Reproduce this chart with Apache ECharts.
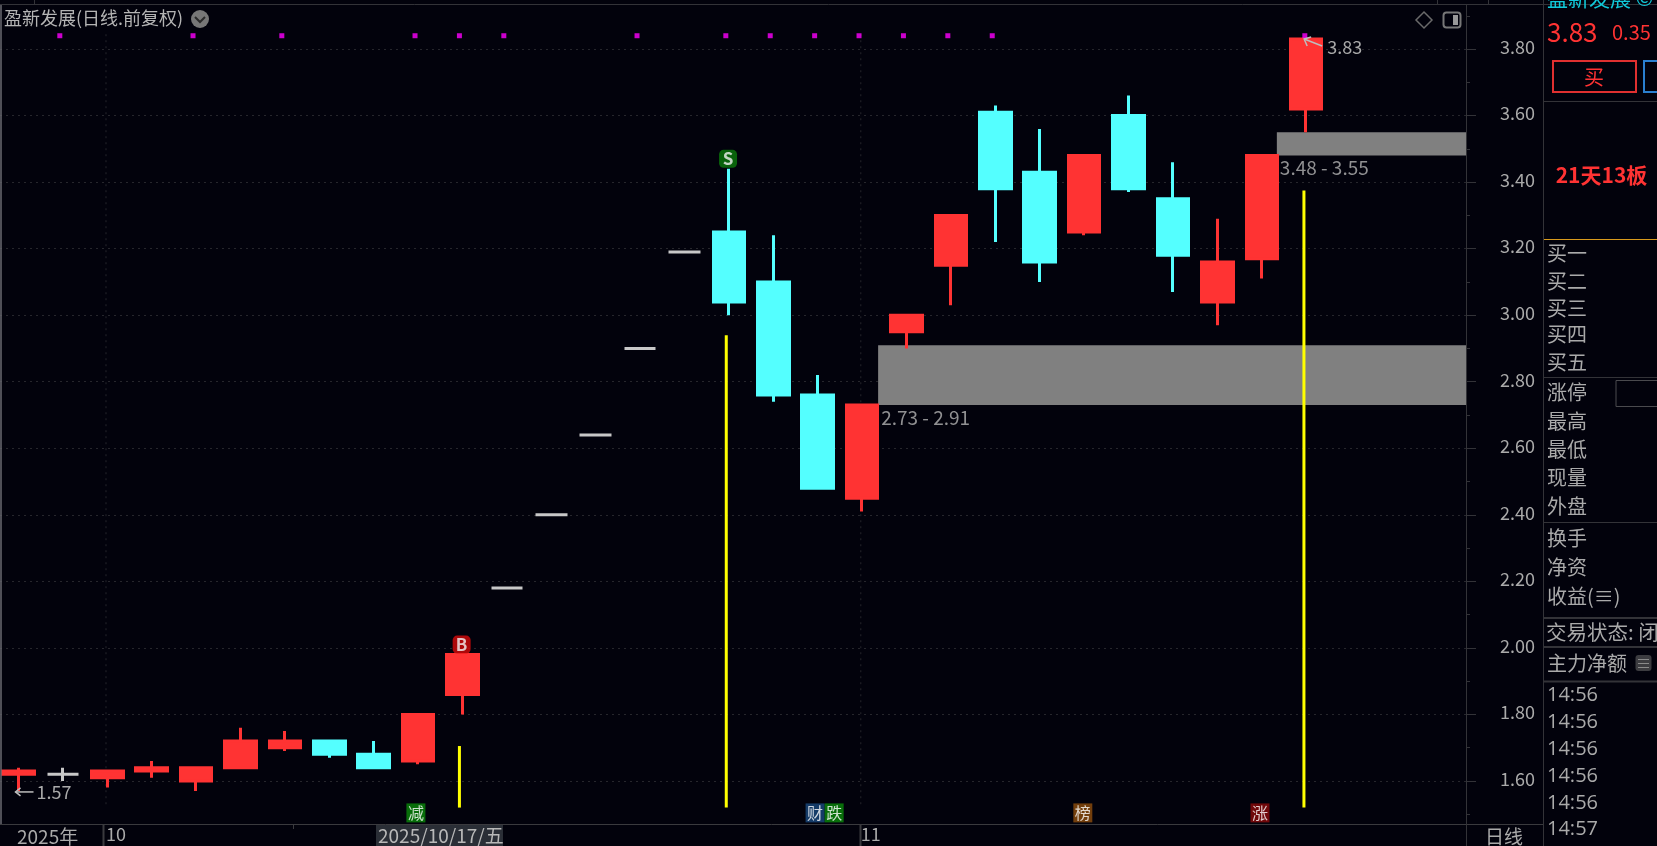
<!DOCTYPE html>
<html><head><meta charset="utf-8">
<style>html,body{margin:0;padding:0;background:#02020c;overflow:hidden}#c{width:1657px;height:846px}</style>
<script src="https://cdn.jsdelivr.net/npm/echarts@6/dist/echarts.min.js"></script>
</head><body><div id="c"></div>
<script>
// ---- data ----
const opens  = [1.62,1.62,1.61,1.63,1.60,1.64,1.70,1.72,1.68,1.66,1.86,2.18,2.40,2.64,2.90,3.19,3.25,3.10,2.76,2.45,2.95,3.15,3.61,3.43,3.25,3.60,3.35,3.04,3.17,3.62];
const closes = [1.63,1.62,1.63,1.64,1.64,1.72,1.72,1.68,1.64,1.80,1.98,2.18,2.40,2.64,2.90,3.19,3.04,2.76,2.48,2.73,3.00,3.30,3.38,3.16,3.48,3.38,3.18,3.16,3.48,3.83];
const lows   = [1.57,1.60,1.58,1.61,1.57,1.64,1.69,1.67,1.64,1.65,1.80,2.18,2.40,2.64,2.90,3.19,3.00,2.74,2.48,2.41,2.90,3.03,3.22,3.10,3.24,3.37,3.07,2.97,3.11,3.55];
const highs  = [1.64,1.64,1.63,1.66,1.64,1.76,1.75,1.72,1.72,1.80,1.98,2.18,2.40,2.64,2.90,3.19,3.44,3.24,2.82,2.73,3.00,3.30,3.63,3.56,3.48,3.66,3.46,3.29,3.48,3.83];
const zoneStarts = [19.36,28.34];
const zoneLows   = [2.73,3.48];
const zoneHighs  = [2.91,3.55];
const yellowIdx   = [9.93,15.94,28.95];
const yellowLows  = [1.52,1.52,1.52];
const yellowHighs = [1.705,2.94,3.375];
const dotIdx = [0.93,3.93,5.93,8.93,9.93,10.93,13.93,15.93,16.93,17.93,18.93,19.93,20.93,21.93,28.97];
const dotLevel = 3.84;
const signalIdx = [9.98,15.98];
const signalVals = [2.01,3.47];
const signalText = ['B','S'];
const tagIdx  = [8.95,17.94,18.37,23.97,27.96];
const tagText = ['减','财','跌','榜','涨'];
const tagLevel = 1.504;
const xTickIdx = [1.97,18.97];
const xTickLabels = ['10','11'];
const yMin=1.4, yMax=4.0, yStep=0.2;
const xMin=-0.417, xMax=32.6;
const extremeIdx=[0,29], extremeVals=[1.57,3.83];
const buyLabels=['买一','买二','买三','买四','买五'];
const statLabels=['涨停','最高','最低','现量','外盘'];
const extraLabels=['换手','净资','收益(≡)'];
const tradeTimes=['14:56','14:56','14:56','14:56','14:56','14:57'];

// ---- styles ----
const BG='#02020c',RED='#ff3333',CYAN='#54ffff',TXT='#aaaaaa',LINE='#333338';
const FONT='"Noto Sans CJK SC","Noto Sans",sans-serif';
const tagColors=['#0a8a0a','#1a4a80','#0a8a0a','#8f4d0c','#8c0a0a'];

const candles=opens.map((o,i)=>[i,o,closes[i],lows[i],highs[i]]);
function segment(name,xs,los,his,color,width,dash,z){
  return {type:'custom',name,z,silent:true,clip:true,
    data:xs.map((x,i)=>[x,los[i],his[i]]),
    encode:{x:0,y:[1,2]},
    renderItem(p,api){
      const a=api.coord([api.value(0),api.value(1)]),b=api.coord([api.value(0),api.value(2)]);
      return {type:'line',shape:{x1:a[0],y1:a[1],x2:b[0],y2:b[1]},
        style:{stroke:color,lineWidth:width,lineDash:dash||null}};
    }};
}
const T=(text,x,y,o={})=>({type:'text',z:100,silent:true,x,y,style:Object.assign({text,fill:TXT,font:`20px ${FONT}`,textVerticalAlign:'middle',textAlign:'left'},o)});
const L=(x1,y1,x2,y2,stroke=LINE,w=1)=>({type:'line',z:99,silent:true,shape:{x1,y1,x2,y2},style:{stroke,lineWidth:w}});
const R=(x,y,w,h,s)=>({type:'rect',z:98,silent:true,shape:{x,y,width:w,height:h,r:s.r||0},style:{fill:s.fill||'none',stroke:s.stroke||'none',lineWidth:s.lw||1}});

const buyYs=[253,281,308,334,362], statYs=[392,421,449,477,506], extraYs=[538,567,596], timeYs=[695,722,749,776,803,829];
const graphics=[
  R(0,0,1657,5,{fill:BG}),
  L(0,4.5,1657,4.5),L(34.5,0,34.5,4),L(1437.5,0,1437.5,4),L(1488.5,0,1488.5,4),
  L(1,5,1,824,'#6a6a70',1.5),
  L(0,824.5,1543,824.5,'#3a3a3e'),L(1466.5,824,1466.5,846),L(103.5,825,103.5,846,'#3a3a3e',2),L(860.5,825,860.5,846,'#3a3a3e',2),L(293.5,825,293.5,829,'#3a3a3e'),
  R(1543,0,114,846,{fill:BG}),L(1543.5,0,1543.5,846),
  // header
  T('盈新发展(日线.前复权)',4,18,{font:`18px ${FONT}`,fill:'#b4b4b4'}),
  {type:'circle',z:100,silent:true,shape:{cx:200,cy:19,r:9},style:{fill:'#777777'}},
  {type:'polyline',z:101,silent:true,shape:{points:[[195,17],[200,22],[205,17]]},style:{stroke:'#2a2a2a',lineWidth:2,fill:'none'}},
  {type:'polygon',z:100,silent:true,shape:{points:[[1424,12],[1432,20],[1424,28],[1416,20]]},style:{fill:'none',stroke:'#6a6a6a',lineWidth:1.5}},
  R(1443.5,12.5,17,15,{stroke:'#777777',lw:2,r:3}),R(1453,15,5,10,{fill:'#999999'}),
  // bottom strip
  T('2025年',17,837,{font:`19px ${FONT}`}),
  R(376,825,127,21,{fill:'#2a2e36'}),
  T('2025/10/17/五',378,836,{font:`19px ${FONT}`,fill:'#b8b8b8'}),
  T('日线',1504,837,{font:`19px ${FONT}`,textAlign:'center'}),
  // right panel
  T('盈新发展 ©',1547,-2,{font:`21px ${FONT}`,fill:'#10c8d8'}),
  T('3.83',1547,32,{font:`26px ${FONT}`,fill:RED}),
  T('0.35',1612,32,{font:`20px ${FONT}`,fill:RED}),
  R(1553,61,83,31,{stroke:'#e03030',lw:2}),
  T('买',1594,77,{font:`20px ${FONT}`,fill:RED,textAlign:'center'}),
  R(1644,61,30,31,{stroke:'#2a7fd0',lw:2}),
  L(1543,101.5,1657,101.5),
  T('21天13板',1601.5,175,{font:`bold 21px ${FONT}`,fill:RED,textAlign:'center'}),
  L(1544,239.5,1657,239.5,'#d89a1c'),
  L(1543,377.5,1657,377.5),
  R(1616,380.5,50,26,{stroke:'#4a4a4e',lw:1}),
  L(1543,522.5,1657,522.5),L(1543,618,1657,618,LINE,2),L(1543,647,1657,647,LINE,2),L(1543,681.5,1657,681.5,LINE,2),
  T('交易状态: 闭',1546,632,{font:`20.5px ${FONT}`}),
  T('主力净额',1547,663),
  R(1635.5,655,16,16,{fill:'#3c3c40',r:3}),
  L(1638,659.5,1649,659.5,'#8a8a8a'),L(1638,663.5,1649,663.5,'#8a8a8a'),L(1638,667.5,1649,667.5,'#8a8a8a'),
  ...buyLabels.map((t,i)=>T(t,1547,buyYs[i])),
  ...statLabels.map((t,i)=>T(t,1547,statYs[i])),
  ...extraLabels.map((t,i)=>T(t,1547,extraYs[i])),
  ...tradeTimes.map((t,i)=>T(t,1547,timeYs[i],{font:`20px "Open Sans",${FONT}`})),
];

const option={
  animation:false,backgroundColor:BG,
  grid:{left:0,right:191,top:-17.5,bottom:-1.5,containLabel:false,outerBoundsMode:'none'},
  xAxis:{type:'value',min:xMin,max:xMax,splitLine:{show:false},axisLine:{show:false,onZero:false},
    axisTick:{show:false},
    axisLabel:{customValues:xTickIdx,margin:-22,align:'left',showMinLabel:true,showMaxLabel:true,
      color:TXT,fontFamily:FONT,fontSize:18,
      formatter:v=>xTickLabels[xTickIdx.indexOf(v)]||''}},
  yAxis:{type:'value',position:'right',min:yMin,max:yMax,interval:yStep,
    axisLine:{show:true,onZero:false,lineStyle:{color:LINE}},
    axisTick:{show:true,length:10,lineStyle:{color:LINE}},
    minorTick:{show:true,splitNumber:2,length:4,lineStyle:{color:LINE}},
    splitLine:{show:true,lineStyle:{color:'#26262c',type:[2,4],width:1}},
    axisLabel:{margin:34,align:'left',verticalAlign:'bottom',lineHeight:4,color:TXT,fontFamily:FONT,fontSize:18,showMinLabel:false,showMaxLabel:false,formatter:v=>v.toFixed(2)}},
  series:[
    {type:'scatter',name:'zones',z:1,symbolSize:0,silent:true,
      data:zoneStarts.map((x,i)=>[x,zoneLows[i]]),
      label:{show:true,position:'right',distance:3,offset:[0,12.5],color:'#b4b4b4',fontFamily:FONT,fontSize:19,
        formatter:p=>`${zoneLows[p.dataIndex].toFixed(2)} - ${zoneHighs[p.dataIndex].toFixed(2)}`},
      markArea:{silent:true,itemStyle:{color:'#808080'},
        data:zoneStarts.map((x,i)=>[{coord:[x,zoneHighs[i]]},{coord:[xMax,zoneLows[i]]}])}},
    {type:'candlestick',name:'K',z:3,barWidth:32,layout:'horizontal',silent:true,
      encode:{x:0,y:[1,2,3,4]},data:candles,
      itemStyle:{color:RED,color0:CYAN,borderColor:RED,borderColor0:CYAN,borderColorDoji:'#c8c8c8',borderWidth:3}},
    segment('yellow',yellowIdx,yellowLows,yellowHighs,'#ffff00',3,null,4),
    segment('xgrid',xTickIdx,[1.53,1.53],[3.85,3.85],'#26262c',1,[2,4],0),
    {type:'scatter',name:'dots',z:5,silent:true,symbol:'rect',symbolSize:5,itemStyle:{color:'#ff00ff'},
      data:dotIdx.map(x=>[x,dotLevel])},
    {type:'scatter',name:'signals',z:6,silent:true,symbol:'roundRect',symbolSize:18,
      data:signalIdx.map((x,i)=>({value:[x,signalVals[i]],itemStyle:{color:signalText[i]==='B'?'#d80a0a':'#0b7a0b'}})),
      label:{show:true,position:'inside',color:'#f2f2f2',fontFamily:FONT,fontSize:17,fontWeight:'bold',formatter:p=>signalText[p.dataIndex]}},
    {type:'scatter',name:'tags',z:6,silent:true,symbol:'rect',symbolSize:19,
      data:tagIdx.map((x,i)=>({value:[x,tagLevel],itemStyle:{color:tagColors[i]}})),
      label:{show:true,position:'inside',color:'#ffffff',fontFamily:FONT,fontSize:16,formatter:p=>tagText[p.dataIndex]}},
    {type:'custom',name:'extremes',z:7,silent:true,clip:false,
      data:extremeIdx.map((x,i)=>[x,extremeVals[i]]),encode:{x:0,y:1},
      renderItem(p,api){
        const v=api.value(1),c=api.coord([api.value(0),v]);
        const up=p.dataIndex===1;
        const tip=up?[c[0]-2,c[1]]:[c[0]-3,c[1]+1];
        const tail=up?[tip[0]+18,tip[1]+7]:[tip[0]+18,tip[1]];
        const s={stroke:'#bdbdbd',lineWidth:1.5,fill:'none'};
        return {type:'group',children:[
          {type:'line',shape:{x1:tip[0],y1:tip[1],x2:tail[0],y2:tail[1]},style:s},
          {type:'polyline',shape:{points:up?[[tip[0]+3,tip[1]+7],tip,[tip[0]+7,tip[1]-2]]:[[tip[0]+5,tip[1]-4],tip,[tip[0]+5,tip[1]+4]]},style:s},
          {type:'text',x:tail[0]+(up?5:3),y:up?tail[1]+1:tail[1],style:{text:v.toFixed(2),fill:TXT,font:`18px ${FONT}`,textVerticalAlign:'middle'}}
        ]};
      }}
  ],
  graphic:{elements:graphics}
};
const chart=echarts.init(document.getElementById('c'),null,{renderer:'canvas'});
chart.setOption(option);
</script></body></html>
